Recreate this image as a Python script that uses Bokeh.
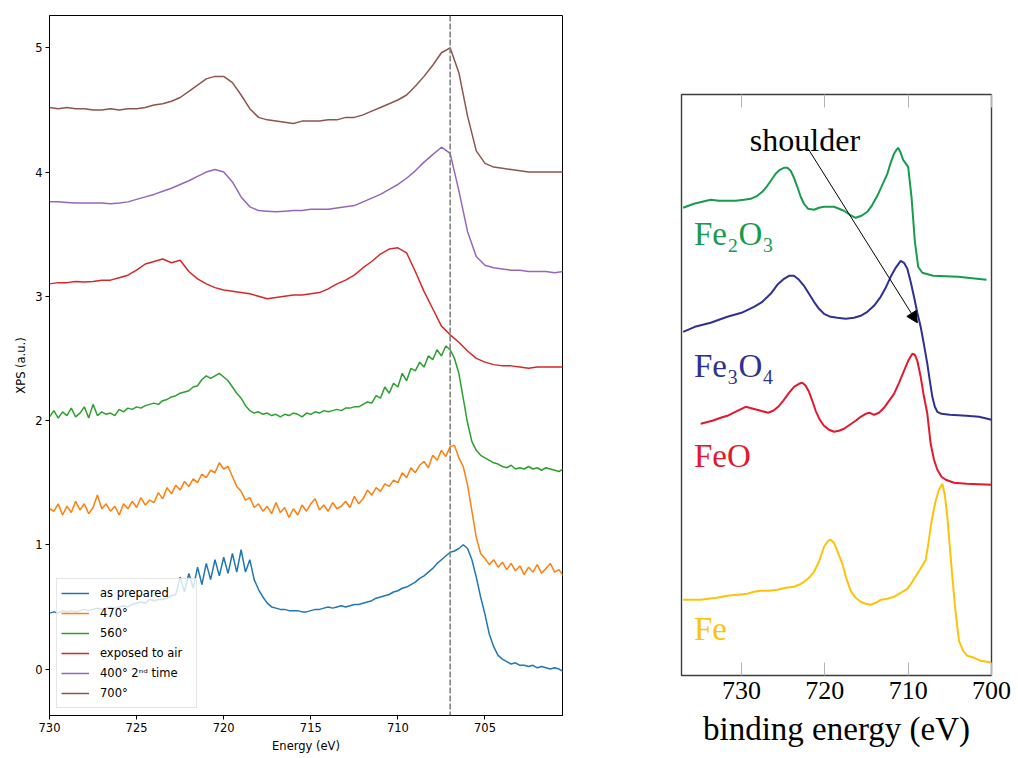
import numpy as np
from bokeh.plotting import figure
from bokeh.models import (Range1d, FixedTicker, LinearAxis, Span, Label, Arrow,
                          NormalHead, Legend, LegendItem)
from bokeh.layouts import row
from bokeh.embed import file_html
from bokeh.resources import INLINE

# ---------------- left panel: measured spectra ----------------
x_ticks_left = [730, 725, 720, 715, 710, 705]
y_ticks_left = [0, 1, 2, 3, 4, 5]
energy_coarse = np.linspace(730.0, 700.5, 60)    # 0.5 eV grid
energy_fine = np.linspace(730.0, 700.5, 119)     # 0.25 eV grid
dashed_energy = 707.0

brown_700 = [4.52, 4.51, 4.52, 4.51, 4.51, 4.50, 4.50, 4.51, 4.50, 4.51,
             4.51, 4.52, 4.54, 4.55, 4.57, 4.60, 4.65, 4.70, 4.75, 4.77,
             4.77, 4.72, 4.62, 4.51, 4.44, 4.42, 4.41, 4.40, 4.39, 4.41,
             4.41, 4.41, 4.42, 4.42, 4.44, 4.44, 4.46, 4.49, 4.52, 4.55,
             4.58, 4.62, 4.69, 4.77, 4.86, 4.96, 5.00, 4.80, 4.45, 4.17,
             4.07, 4.04, 4.03, 4.02, 4.01, 4.00, 4.00, 4.00, 4.00, 4.00]

purple_400 = [3.76, 3.76, 3.755, 3.75, 3.75, 3.75, 3.75, 3.745, 3.75, 3.76,
              3.78, 3.80, 3.82, 3.845, 3.87, 3.90, 3.93, 3.965, 4.00, 4.02,
              4.00, 3.92, 3.80, 3.72, 3.69, 3.685, 3.68, 3.685, 3.69, 3.69,
              3.70, 3.70, 3.70, 3.71, 3.72, 3.73, 3.76, 3.79, 3.82, 3.86,
              3.90, 3.95, 4.01, 4.08, 4.14, 4.20, 4.15, 3.85, 3.52, 3.32,
              3.25, 3.23, 3.22, 3.21, 3.21, 3.20, 3.20, 3.20, 3.19, 3.20]

red_air = [3.10, 3.11, 3.11, 3.12, 3.115, 3.12, 3.13, 3.13, 3.15, 3.17,
           3.21, 3.26, 3.28, 3.30, 3.27, 3.29, 3.20, 3.14, 3.10, 3.07,
           3.05, 3.04, 3.03, 3.02, 3.00, 2.98, 2.99, 3.00, 3.01, 3.01,
           3.02, 3.03, 3.06, 3.10, 3.13, 3.17, 3.23, 3.28, 3.34, 3.38,
           3.39, 3.35, 3.20, 3.04, 2.90, 2.76, 2.69, 2.63, 2.56, 2.50,
           2.47, 2.45, 2.44, 2.44, 2.43, 2.42, 2.43, 2.43, 2.43, 2.43]

green_560 = [2.03, 2.08, 2.02, 2.07, 2.04, 2.10, 2.03, 2.06,
             2.11, 2.02, 2.13, 2.04, 2.07, 2.05, 2.06, 2.04,
             2.09, 2.07, 2.10, 2.09, 2.11, 2.10, 2.12, 2.13,
             2.14, 2.13, 2.16, 2.17, 2.19, 2.20, 2.22, 2.23,
             2.24, 2.27, 2.28, 2.33, 2.36, 2.34, 2.36, 2.38,
             2.35, 2.32, 2.27, 2.22, 2.18, 2.12, 2.08, 2.06,
             2.07, 2.05, 2.06, 2.04, 2.05, 2.03, 2.05, 2.04,
             2.06, 2.05, 2.03, 2.06, 2.05, 2.07, 2.06, 2.08,
             2.07, 2.08, 2.09, 2.08, 2.10, 2.10, 2.11, 2.11,
             2.13, 2.15, 2.14, 2.20, 2.18, 2.27, 2.22, 2.30,
             2.27, 2.38, 2.32, 2.42, 2.40, 2.47, 2.43, 2.52,
             2.49, 2.57, 2.52, 2.60, 2.57, 2.50, 2.38, 2.18,
             1.98, 1.83, 1.76, 1.72, 1.70, 1.68, 1.66, 1.65,
             1.63, 1.62, 1.64, 1.61, 1.62, 1.61, 1.63, 1.61,
             1.62, 1.60, 1.62, 1.61, 1.60, 1.59, 1.61]

orange_470 = [1.29, 1.27, 1.33, 1.24, 1.31, 1.26, 1.35, 1.28,
              1.33, 1.25, 1.30, 1.40, 1.29, 1.33, 1.27, 1.31,
              1.24, 1.33, 1.29, 1.35, 1.30, 1.38, 1.32, 1.36,
              1.34, 1.42, 1.37, 1.46, 1.41, 1.48, 1.44, 1.51,
              1.47, 1.53, 1.50, 1.57, 1.54, 1.60, 1.58, 1.66,
              1.61, 1.63, 1.55, 1.47, 1.43, 1.36, 1.38, 1.30,
              1.33, 1.27, 1.31, 1.25, 1.34, 1.26, 1.30, 1.22,
              1.29, 1.24, 1.32, 1.27, 1.33, 1.37, 1.28, 1.32,
              1.27, 1.34, 1.29, 1.31, 1.35, 1.30, 1.39, 1.33,
              1.37, 1.44, 1.40, 1.46, 1.43, 1.49, 1.47, 1.52,
              1.50, 1.58, 1.54, 1.62, 1.58, 1.64, 1.67, 1.62,
              1.72, 1.68, 1.76, 1.71, 1.79, 1.80, 1.70, 1.63,
              1.48, 1.27, 1.06, 0.93, 0.89, 0.84, 0.88, 0.82,
              0.86, 0.80, 0.85, 0.79, 0.83, 0.76, 0.82, 0.78,
              0.84, 0.77, 0.81, 0.85, 0.78, 0.80, 0.75]

blue_prepared = [0.45, 0.46, 0.45, 0.47, 0.46, 0.47, 0.46, 0.47,
                 0.48, 0.47, 0.48, 0.49, 0.48, 0.49, 0.50, 0.49,
                 0.50, 0.51, 0.50, 0.52, 0.53, 0.54, 0.53, 0.56,
                 0.55, 0.56, 0.56, 0.57, 0.59, 0.60, 0.74, 0.62,
                 0.77, 0.65, 0.82, 0.68, 0.85, 0.72, 0.88, 0.75,
                 0.90, 0.77, 0.93, 0.78, 0.96, 0.78, 0.88, 0.72,
                 0.64, 0.58, 0.53, 0.50, 0.49, 0.48, 0.48, 0.47,
                 0.47, 0.47, 0.46, 0.46, 0.47, 0.48, 0.48, 0.49,
                 0.50, 0.49, 0.50, 0.51, 0.50, 0.51, 0.52, 0.52,
                 0.53, 0.54, 0.55, 0.57, 0.58, 0.59, 0.60, 0.62,
                 0.63, 0.65, 0.66, 0.68, 0.70, 0.73, 0.75, 0.78,
                 0.81, 0.85, 0.88, 0.91, 0.94, 0.95, 0.97, 1.00,
                 0.97, 0.88, 0.74, 0.58, 0.44, 0.28, 0.18, 0.11,
                 0.08, 0.06, 0.04, 0.05, 0.03, 0.03, 0.02, 0.03,
                 0.01, 0.02, 0.01, 0.00, 0.01, 0.00, -0.02]

legend_labels = ["as prepared", "470°", "560°", "exposed to air",
                 "400° 2ⁿᵈ time", "700°"]
colors_left = ["#1f77b4", "#ff7f0e", "#2ca02c", "#d62728", "#9467bd", "#8c564b"]

# ---------------- right panel: reference spectra ----------------
x_ticks_right = [730, 720, 710, 700]

fe2o3 = [(737.0, 467), (735.7, 471), (734.7, 473), (733.7, 475), (732.7, 474),
         (731.7, 474), (730.7, 474), (729.7, 475), (728.9, 476), (728.1, 479),
         (727.5, 483), (726.9, 489), (726.4, 495), (725.9, 501), (725.4, 505),
         (724.9, 507), (724.5, 507), (724.1, 504), (723.7, 497), (723.3, 488),
         (722.9, 478), (722.5, 471), (722.0, 466), (721.3, 465), (720.7, 467),
         (720.1, 468), (719.5, 468), (718.9, 468), (718.3, 466), (717.7, 464),
         (717.0, 460), (716.3, 457), (715.6, 459), (714.9, 463), (714.3, 470),
         (713.7, 479), (713.1, 490), (712.5, 501), (712.1, 512), (711.7, 521),
         (711.4, 525), (711.2, 527), (710.9, 522), (710.6, 515), (710.0, 508),
         (709.6, 478), (709.2, 434), (708.8, 408), (708.3, 402), (707.0, 399),
         (704.0, 398), (700.6, 395)]

fe3o4 = [(737.0, 343), (735.6, 348), (733.7, 352), (731.7, 358), (730.0, 362),
         (728.5, 368), (727.5, 373), (726.5, 381), (725.7, 390), (724.9, 396),
         (724.3, 399), (723.7, 399), (723.1, 395), (722.5, 389), (721.9, 381),
         (721.3, 373), (720.7, 366), (720.1, 361), (719.3, 358), (718.5, 357),
         (717.5, 356), (716.5, 357), (715.7, 359), (714.9, 363), (714.1, 369),
         (713.3, 378), (712.7, 387), (712.1, 398), (711.5, 407), (710.9, 414),
         (710.5, 412), (710.1, 406), (709.7, 393), (709.3, 378), (708.9, 362),
         (708.5, 348), (708.1, 330), (707.7, 311), (707.4, 294), (707.1, 278),
         (706.8, 268), (706.5, 263), (706.0, 261), (705.0, 260), (703.0, 259),
         (701.5, 258), (700.0, 255)]

feo = [(734.9, 251), (733.5, 254), (732.5, 257), (731.7, 259), (730.5, 264),
       (729.5, 268), (728.6, 266), (727.7, 264), (726.8, 262), (726.2, 264),
       (725.6, 268), (725.0, 274), (724.3, 282), (723.7, 288), (723.1, 291),
       (722.7, 292), (722.3, 289), (721.9, 283), (721.5, 274), (721.1, 264),
       (720.6, 255), (720.1, 249), (719.5, 245), (718.9, 243), (718.3, 244),
       (717.7, 246), (717.0, 250), (716.3, 254), (715.7, 258), (715.1, 261),
       (714.6, 262), (714.1, 260), (713.5, 262), (712.9, 267), (712.3, 274),
       (711.7, 281), (711.1, 292), (710.5, 304), (710.0, 314), (709.5, 321),
       (709.2, 320), (708.9, 314), (708.5, 298), (708.1, 278), (707.7, 261),
       (707.3, 231), (706.9, 215), (706.5, 205), (706.0, 198), (705.5, 195),
       (704.5, 192), (703.0, 191), (701.5, 190.5), (700.0, 190)]

fe = [(737.0, 75), (734.9, 75), (733.0, 77), (731.7, 79), (730.5, 80),
      (729.3, 81), (728.5, 83), (727.7, 84), (726.7, 84), (725.7, 85),
      (724.7, 87), (723.7, 88), (723.1, 90), (722.5, 93), (721.9, 97),
      (721.3, 103), (720.7, 113), (720.1, 128), (719.6, 134), (719.3, 135),
      (718.9, 132), (718.5, 124), (717.9, 111), (717.4, 96), (716.9, 84),
      (716.3, 77), (715.7, 73), (715.1, 71), (714.5, 70), (713.9, 72),
      (713.3, 75), (712.5, 76), (711.7, 78), (710.9, 82), (710.1, 86),
      (709.5, 93), (708.9, 101), (708.3, 109), (707.9, 115), (707.6, 130),
      (707.3, 148), (707.0, 162), (706.7, 174), (706.3, 185), (705.9, 191),
      (705.6, 180), (705.3, 158), (705.0, 128), (704.7, 98), (704.3, 62),
      (703.9, 34), (703.4, 24), (702.9, 19), (702.1, 17), (701.3, 14),
      (700.1, 12.6)]

ref_names = ["Fe₂O₃", "Fe₃O₄", "FeO", "Fe"]
ref_colors = ["#179b4d", "#2e3192", "#e4182c", "#fcc30c"]
ref_label_pos = [(735.7, 441), (735.7, 309), (735.7, 219), (735.7, 46)]
shoulder_text_pos = (729.0, 535)
shoulder_arrow = (722.0, 526, 708.9, 352)

# ================= LEFT FIGURE =================
SANS = "DejaVu Sans"
left = figure(width=567, height=758, x_range=Range1d(730, 700.55),
              y_range=Range1d(-0.374, 5.26), output_backend="svg",
              toolbar_location=None, min_border_left=49, min_border_right=5,
              min_border_top=15, min_border_bottom=43, frame_align=False)
left.xgrid.visible = False
left.ygrid.visible = False
left.outline_line_color = "black"
left.outline_line_width = 1
left.outline_line_alpha = 1

for ax in (left.xaxis[0], left.yaxis[0]):
    ax.major_tick_out = 4
    ax.major_tick_in = 0
    ax.minor_tick_line_color = None
    ax.major_tick_line_color = "black"
    ax.axis_line_color = "black"
    ax.major_label_text_font = SANS
    ax.major_label_text_font_size = "11.5px"
    ax.major_label_text_color = "black"
    ax.axis_label_text_font = SANS
    ax.axis_label_text_font_size = "11.5px"
    ax.axis_label_text_font_style = "normal"
    ax.axis_label_text_color = "black"
    ax.major_label_standoff = 3
    ax.axis_label_standoff = 4

left.xaxis.ticker = FixedTicker(ticks=x_ticks_left)
left.yaxis.ticker = FixedTicker(ticks=y_ticks_left)
left.xaxis.axis_label = "Energy (eV)"
left.yaxis.axis_label = "XPS (a.u.)"

series = [(energy_fine, blue_prepared), (energy_fine, orange_470),
          (energy_fine, green_560), (energy_coarse, red_air),
          (energy_coarse, purple_400), (energy_coarse, brown_700)]
items = []
for (xs, ys), lab, col in zip(series, legend_labels, colors_left):
    r = left.line(list(xs), ys, line_color=col, line_width=1.5)
    items.append(LegendItem(label=lab, renderers=[r]))

left.add_layout(Span(location=dashed_energy, dimension="height",
                     line_color="#7a7a7a", line_width=1.5, line_dash="6 2"))

legend = Legend(items=items, location=(7, 7), margin=0, padding=4, spacing=0,
                glyph_width=28, glyph_height=20, label_height=20,
                label_width=92, label_standoff=11,
                label_text_font=SANS, label_text_font_size="11.5px",
                label_text_color="black",
                border_line_color="#cccccc", border_line_width=1,
                background_fill_color="white", background_fill_alpha=0.8)
left.add_layout(legend)

# ================= RIGHT FIGURE =================
SERIF = "Liberation Serif"
right = figure(width=450, height=758, x_range=Range1d(737.2, 700),
               y_range=Range1d(-0.7, 580.3), output_backend="svg",
               toolbar_location=None, min_border_left=114, min_border_right=26,
               min_border_top=94, min_border_bottom=83, frame_align=False)
right.xgrid.visible = False
right.ygrid.visible = False
right.yaxis.visible = False
right.outline_line_color = "#3c3c3c"
right.outline_line_width = 1.4
right.outline_line_alpha = 1

bx = right.xaxis[0]
bx.ticker = FixedTicker(ticks=x_ticks_right)
bx.major_tick_in = 13
bx.major_tick_out = 0
bx.major_tick_line_color = "#b4b4b4"
bx.minor_tick_line_color = None
bx.axis_line_color = None
bx.major_label_text_font = SERIF
bx.major_label_text_font_size = "26px"
bx.major_label_text_color = "black"
bx.major_label_standoff = 6
bx.axis_label = "binding energy (eV)"
bx.axis_label_text_font = SERIF
bx.axis_label_text_font_size = "33px"
bx.axis_label_text_font_style = "normal"
bx.axis_label_text_color = "black"
bx.axis_label_standoff = 9

top_axis = LinearAxis(ticker=FixedTicker(ticks=x_ticks_right),
                      major_tick_in=13, major_tick_out=0,
                      major_tick_line_color="#b4b4b4",
                      minor_tick_line_color=None, axis_line_color=None,
                      major_label_overrides={t: "" for t in x_ticks_right})
right.add_layout(top_axis, "above")

for data, col in zip([fe2o3, fe3o4, feo, fe], ref_colors):
    es = [d[0] for d in data]
    vs = [d[1] for d in data]
    right.line(es, vs, line_color=col, line_width=2)

for name, col, (lx, ly) in zip(ref_names, ref_colors, ref_label_pos):
    right.add_layout(Label(x=lx, y=ly, text=name, text_color=col,
                           text_font=SERIF, text_font_size="33px",
                           text_baseline="alphabetic"))

right.add_layout(Label(x=shoulder_text_pos[0], y=shoulder_text_pos[1],
                       text="shoulder", text_color="black", text_font=SERIF,
                       text_font_size="32px", text_baseline="alphabetic"))

x0, y0, x1, y1 = shoulder_arrow
right.add_layout(Arrow(end=NormalHead(size=11, fill_color="black",
                                      line_color="black", line_width=1),
                       x_start=x0, y_start=y0, x_end=x1, y_end=y1,
                       line_color="black", line_width=1))

page = row(left, right)
open("out.html", "w").write(file_html(page, INLINE))
